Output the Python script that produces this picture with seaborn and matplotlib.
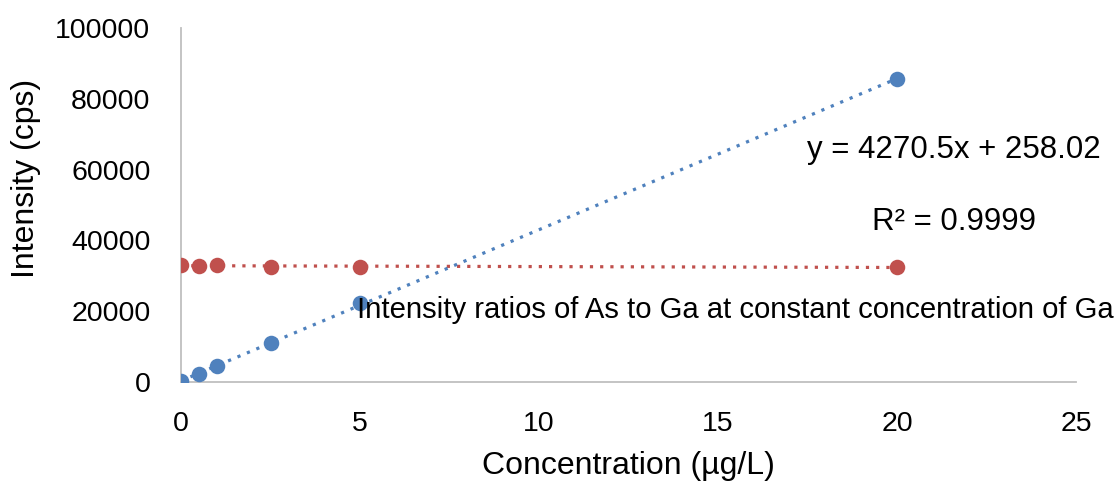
import numpy as np
import pandas as pd
import matplotlib
matplotlib.use("Agg")
import matplotlib.pyplot as plt
import seaborn as sns

# Calibration data
conc = [0, 0.5, 1, 2.5, 5, 20]
as_intensity = [250, 2350, 4450, 10950, 22200, 85600]
ga_intensity = [33000, 32800, 33000, 32600, 32600, 32400]

x_ticks = [0, 5, 10, 15, 20, 25]
y_ticks = [0, 20000, 40000, 60000, 80000, 100000]

blue = "#4F81BD"
red = "#C0504D"
axis_grey = "#BFBFBF"

sns.set_theme(style="white")
plt.rcParams["font.family"] = ["Liberation Sans", "DejaVu Sans"]
plt.rcParams["text.color"] = "black"

df = pd.DataFrame({"conc": conc, "As": as_intensity, "Ga": ga_intensity})

fig = plt.figure(figsize=(11.16, 4.86), dpi=100)
ax = fig.add_axes([181 / 1116, 1 - 382 / 486, (1076 - 181) / 1116, (382 - 28) / 486])

for col, color in (("Ga", red), ("As", blue)):
    sns.regplot(data=df, x="conc", y=col, ax=ax, ci=None, truncate=True,
                scatter_kws=dict(s=125, color=color, alpha=1, linewidths=0, zorder=3),
                line_kws=dict(color=color, linestyle=(0, (1, 2.2)), linewidth=2.3, zorder=2))

ax.set_xlim(0, 25)
ax.set_ylim(0, 100000)
ax.set_xticks(x_ticks)
ax.set_yticks(y_ticks)
ax.tick_params(axis="both", labelsize=20.5, colors=axis_grey, labelcolor="black",
               direction="out", length=7, width=1.3)
ax.tick_params(axis="x", pad=14)
ax.tick_params(axis="y", pad=15)

for side in ("top", "right"):
    ax.spines[side].set_visible(False)
for side in ("left", "bottom"):
    ax.spines[side].set_color(axis_grey)
    ax.spines[side].set_linewidth(1.3)

ax.set_xlabel("Concentration (µg/L)", fontsize=23, color="black")
ax.set_ylabel("Intensity (cps)", fontsize=23, color="black")
ax.xaxis.label.set_va("center")
ax.yaxis.label.set_va("center")
ax.xaxis.set_label_coords(0.5, (382 - 466) / 354)
ax.yaxis.set_label_coords((26 - 181) / 895, (382 - 178) / 354)

ax.text(21.6, 65500, "y = 4270.5x + 258.02", fontsize=22.5, ha="center", va="center")
ax.text(21.6, 45200, "R² = 0.9999", fontsize=22.5, ha="center", va="center")
ax.text(4.92, 20300, "Intensity ratios of As to Ga at constant concentration of Ga",
        fontsize=21.1, ha="left", va="center", clip_on=False)

fig.savefig("out.png", dpi=100)
